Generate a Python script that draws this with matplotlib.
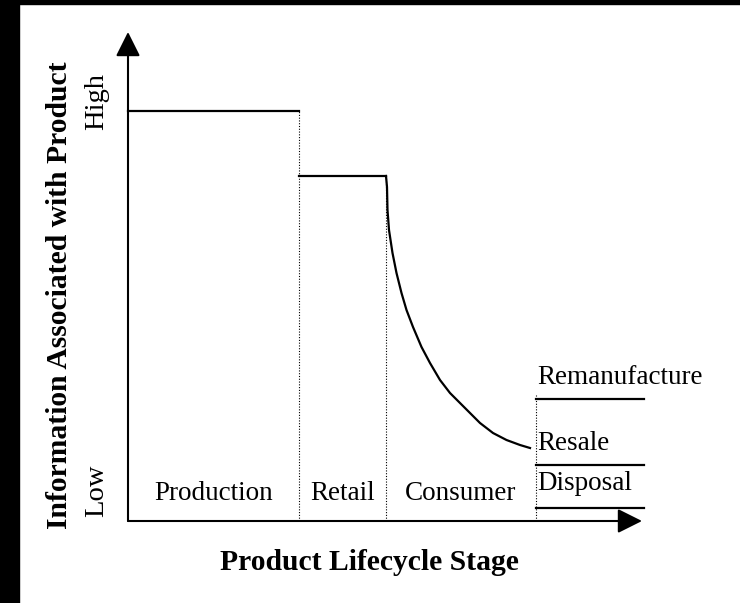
import matplotlib.pyplot as plt
from matplotlib.patches import Rectangle

plt.rcParams["font.family"] = ["Liberation Serif", "DejaVu Serif"]

# stages along the lifecycle axis (arbitrary units, origin at the axis corner)
stages = ["Production", "Retail", "Consumer"]
stage_edges = [0, 171, 258, 408]
stage_levels = [410, 345]          # information level held flat in each stage
label_y = 28

# consumer stage: information decays
consumer_x = [258, 259, 259.5, 261, 264.5, 268.5, 273.5, 278.5, 285, 293.5,
              302, 312, 322, 332, 342, 352, 365, 378.5, 392, 402]
consumer_y = [345, 334, 311, 291, 268, 248, 228, 211, 194, 174,
              158, 141, 128, 118, 108, 98, 88, 81, 76, 73]

# end-of-life outcomes
outcomes = ["Remanufacture", "Resale", "Disposal"]
outcome_levels = [122, 56, 13]
outcome_label_y = [143, 78, 38]
outcome_end = 516

x_max, y_max = 514, 489

fig = plt.figure(figsize=(7.4, 6.03), dpi=100)
ax = fig.add_axes([0, 0, 1, 1])
ax.set_xlim(-128, 612)
ax.set_ylim(-82, 521)
ax.axis("off")

# black scan borders
fig.patches.append(Rectangle((0, 0), 19 / 740, 1, transform=fig.transFigure,
                             color="black", zorder=0))
fig.patches.append(Rectangle((0, 1 - 4 / 603), 1, 4 / 603, transform=fig.transFigure,
                             color="black", zorder=0))

arrow = dict(arrowstyle="-|>,head_length=1.5,head_width=0.75",
             lw=1.5, color="black", shrinkA=0, shrinkB=0)
ax.annotate("", xy=(x_max, 0), xytext=(0, 0), arrowprops=arrow)
ax.annotate("", xy=(0, y_max), xytext=(0, 0), arrowprops=arrow)

# flat levels for production and retail
for i, lvl in enumerate(stage_levels):
    ax.plot([stage_edges[i], stage_edges[i + 1]], [lvl, lvl], color="black", lw=1.6)

ax.plot(consumer_x, consumer_y, color="black", lw=1.6, solid_joinstyle="round")

# dotted stage dividers
dots = dict(color="black", lw=0.8, ls=(0, (1, 1.5)))
ax.plot([stage_edges[1]] * 2, [0, stage_levels[0]], **dots)
ax.plot([stage_edges[2]] * 2, [0, stage_levels[1]], **dots)
ax.plot([stage_edges[3]] * 2, [0, outcome_levels[0] + 4], **dots)

for i, name in enumerate(stages):
    xm = (stage_edges[i] + stage_edges[i + 1]) / 2
    ax.text(xm, label_y, name, ha="center", va="center", fontsize=19.5)

for name, lvl, ly in zip(outcomes, outcome_levels, outcome_label_y):
    ax.plot([stage_edges[3], outcome_end], [lvl, lvl], color="black", lw=1.6)
    ax.text(stage_edges[3] + 1, ly, name, ha="left", va="center", fontsize=19.5)

ax.text(-31, 419, "High", rotation=90, ha="center", va="center", fontsize=20.5)
ax.text(-31, 30, "Low", rotation=90, ha="center", va="center", fontsize=20.5)
ax.text(-68, 226, "Information Associated with Product", rotation=90,
        ha="center", va="center", fontsize=21.3, fontweight="bold")
ax.text(241, -41, "Product Lifecycle Stage", ha="center", va="center",
        fontsize=21.3, fontweight="bold")

fig.savefig("out.png", dpi=100)
